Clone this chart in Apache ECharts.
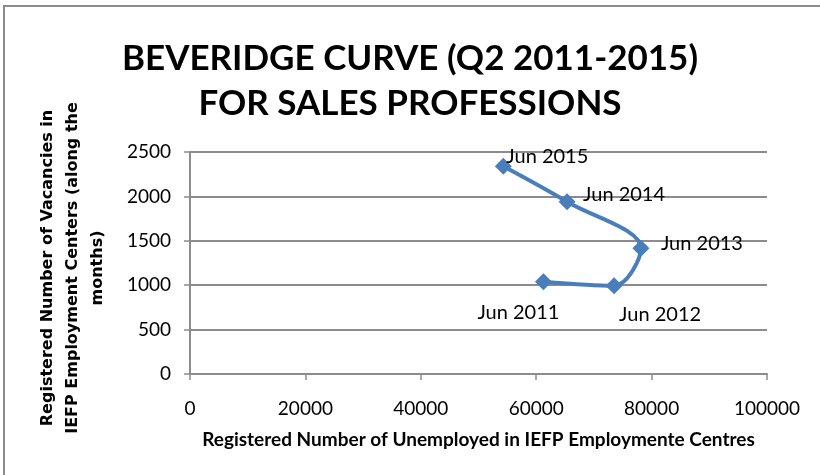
<!DOCTYPE html>
<html>
<head>
<meta charset="utf-8">
<script src="https://cdn.jsdelivr.net/npm/echarts@6/dist/echarts.min.js"></script>
<style>
  html, body { margin: 0; padding: 0; background: #fff; }
  #chart { width: 820px; height: 475px; }
</style>
</head>
<body>
<div id="chart"></div>
<script>
// data
const periods = ['Jun 2011', 'Jun 2012', 'Jun 2013', 'Jun 2014', 'Jun 2015']
const unemployed = [61250, 73500, 78150, 65350, 54300]
const vacancies = [1040, 995, 1415, 1940, 2340]

// where each period label sits next to its marker
const labelOffsets = [[-25, 31], [46, 29], [61, -5], [57, -7], [44, -10]]

const gray = '#8c8c8c'
const blue = '#4a7ebb'

const chart = echarts.init(document.getElementById('chart'))

const points = periods.map(function(p, i) {
  return {
    name: p,
    value: [unemployed[i], vacancies[i]],
    label: { offset: labelOffsets[i] }
  }
})

// plain numbers, no thousands separators
function plain(v) {
  return String(v)
}

chart.setOption({
  animation: false,
  title: {
    text: 'BEVERIDGE CURVE (Q2 2011-2015)\nFOR SALES PROFESSIONS',
    left: 'center',
    top: 31,
    textStyle: {
      fontFamily: 'Lato',
      fontWeight: 'bold',
      fontSize: 35,
      lineHeight: 45,
      color: '#000'
    }
  },
  grid: { left: 190, right: 53, top: 152, bottom: 101, containLabel: false },
  xAxis: {
    type: 'value',
    min: 0,
    max: 100000,
    interval: 20000,
    name: 'Registered Number of Unemployed in IEFP Employmente Centres',
    nameLocation: 'middle',
    nameGap: 56,
    nameTextStyle: { fontFamily: 'Lato', fontWeight: 'bold', fontSize: 19, color: '#000' },
    splitLine: { show: false },
    axisLine: { lineStyle: { color: gray, width: 2 } },
    axisTick: { show: true, length: 6, lineStyle: { color: gray, width: 1.5 } },
    axisLabel: { fontFamily: 'Lato', fontSize: 19, color: '#000', margin: 25, formatter: plain }
  },
  yAxis: {
    type: 'value',
    min: 0,
    max: 2500,
    interval: 500,
    splitLine: { lineStyle: { color: gray, width: 2 } },
    axisLine: { show: true, lineStyle: { color: gray, width: 2 } },
    axisTick: { show: true, length: 6, lineStyle: { color: gray, width: 1.5 } },
    axisLabel: { fontFamily: 'Lato', fontSize: 19, color: '#000', margin: 19, formatter: plain }
  },
  graphic: [
    {
      type: 'polyline',
      shape: { points: [[4, 475], [4, 6], [820, 6]] },
      style: { stroke: gray, lineWidth: 2, fill: null }
    },
    {
      type: 'text',
      x: 73,
      y: 268,
      rotation: Math.PI / 2,
      style: {
        text: 'Registered Number of Vacancies in\nIEFP Employment Centers (along the\nmonths)',
        font: 'bold 16px "DejaVu Sans"',
        align: 'center',
        verticalAlign: 'middle',
        lineHeight: 25,
        fill: '#000'
      }
    }
  ],
  series: [
    {
      type: 'line',
      data: points,
      smooth: 0.35,
      symbol: 'diamond',
      symbolSize: 17,
      itemStyle: { color: blue },
      lineStyle: { color: blue, width: 4 },
      label: {
        show: true,
        position: 'inside',
        formatter: '{b}',
        fontFamily: 'Lato',
        fontSize: 20,
        color: '#000',
        align: 'center',
        verticalAlign: 'middle'
      }
    }
  ]
})
</script>
</body>
</html>
